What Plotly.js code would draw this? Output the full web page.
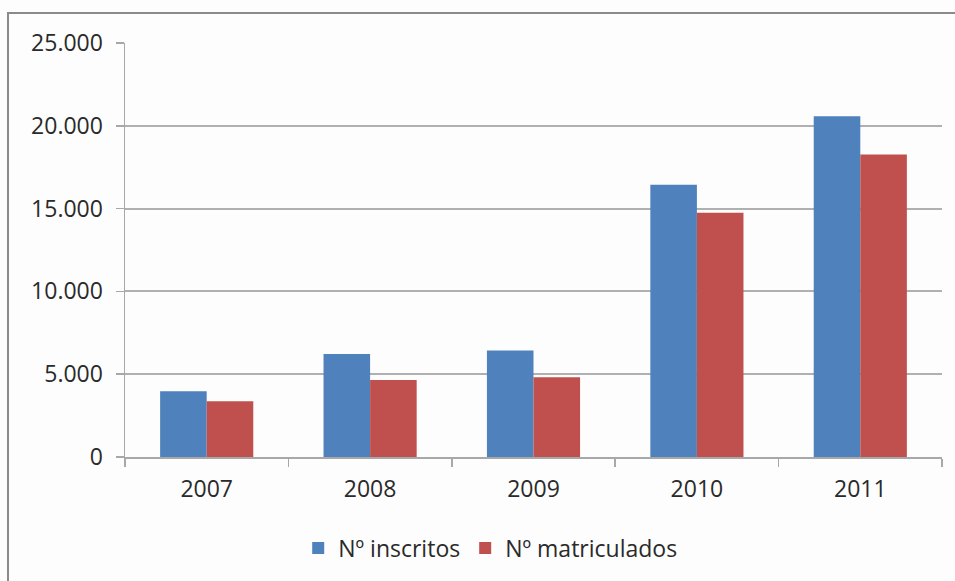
<!DOCTYPE html>
<html>
<head>
<meta charset="utf-8">
<script src="https://cdn.plot.ly/plotly-3.0.1.min.js"></script>
<style>
html,body{margin:0;padding:0;background:#fdfdfd;}
#wrap{position:relative;width:955px;height:581px;overflow:hidden;}
#chart{position:absolute;left:0;top:0;width:955px;height:581px;}
#frame{position:absolute;left:7px;top:12px;width:960px;height:600px;border-left:2px solid #8a8a8a;border-top:2px solid #8a8a8a;pointer-events:none;}
</style>
</head>
<body>
<div id="wrap"><div id="chart"></div><div id="frame"></div></div>
<script>
const years = ['2007', '2008', '2009', '2010', '2011'];
const seriesNames = ['Nº inscritos', 'Nº matriculados'];
const inscritos = [3970, 6220, 6430, 16440, 20570];
const matriculados = [3370, 4650, 4810, 14750, 18270];

const font = 'Open Sans, Liberation Sans, Arial, sans-serif';
const traces = [
  {type: 'bar', name: seriesNames[0], x: years, y: inscritos, marker: {color: '#4F81BD', line: {width: 0}}},
  {type: 'bar', name: seriesNames[1], x: years, y: matriculados, marker: {color: '#C0504D', line: {width: 0}}}
];
const layout = {
  width: 955, height: 581,
  paper_bgcolor: '#fdfdfd', plot_bgcolor: '#fdfdfd',
  margin: {l: 125, r: 13, t: 43, b: 123.5},
  separators: ',.',
  barmode: 'group', bargap: 0.43, bargroupgap: 0,
  showlegend: true,
  legend: {orientation: 'h', x: 0.447, xanchor: 'center', y: -0.22, yanchor: 'middle',
    font: {family: font, size: 23, color: '#2a2a2a'}, itemwidth: 30, traceorder: 'normal'},
  xaxis: {type: 'category', showline: true, linecolor: '#a8a8a8', linewidth: 2,
    ticks: 'outside', tickson: 'boundaries', ticklen: 8, tickcolor: '#a8a8a8', tickwidth: 1.5,
    showgrid: false, tickfont: {family: font, size: 23, color: '#2a2a2a'}, ticklabelstandoff: 10},
  yaxis: {range: [0, 25000], dtick: 5000, tickformat: ',d', showline: true, linecolor: '#a8a8a8', linewidth: 1.5,
    ticks: 'outside', ticklen: 8, tickcolor: '#a8a8a8', tickwidth: 1.5,
    showgrid: true, gridcolor: '#b0b0b0', gridwidth: 2, zeroline: false,
    tickfont: {family: font, size: 23, color: '#2a2a2a'}, ticklabelstandoff: 8}
};
Plotly.newPlot('chart', traces, layout, {displayModeBar: false, staticPlot: true});
</script>
</body>
</html>
